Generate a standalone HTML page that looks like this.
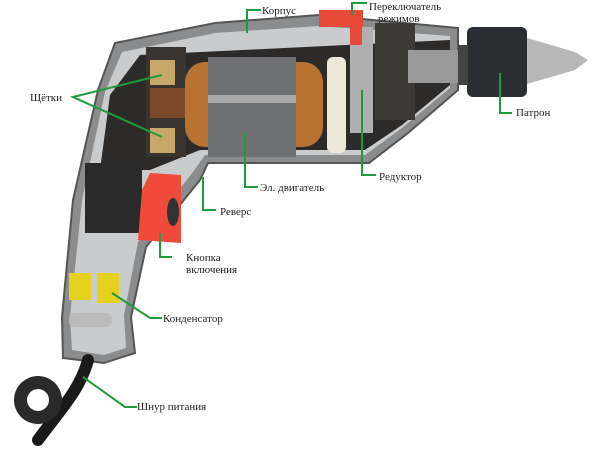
<!DOCTYPE html>
<html><head><meta charset="utf-8"><style>
html,body{margin:0;padding:0;background:#fff;width:600px;height:462px;overflow:hidden}
svg{display:block}
text{font-family:"Liberation Serif",serif;font-size:11px;fill:#222}
</style></head><body>
<svg width="600" height="462" viewBox="0 0 600 462">
<!-- body shell -->
<path d="M115,43 L215,23 L319,15 L458,28 L458,90 L408,133 L369,163 L208,163 L200,180 L146,247 L131,317 L135,353 L104,363 L63,358 L62,317 L73,200 L98,90 Z" fill="#8a8c8e" stroke="#555" stroke-width="2"/>
<path d="M122,52 L215,33 L319,26 L450,36 L450,88 L402,128 L365,155 L205,155 L193,172 L138,242 L124,315 L126,348 L104,355 L72,350 L70,317 L82,200 L105,92 Z" fill="#c9cbcc"/>
<path d="M140,55 L450,40 L450,85 L402,125 L365,150 L200,150 L150,170 L100,170 L110,95 Z" fill="#2c2b2a"/>
<!-- brushes -->
<rect x="146" y="47" width="40" height="110" fill="#3a3430"/>
<rect x="150" y="60" width="25" height="25" fill="#c8a86a"/>
<rect x="150" y="128" width="25" height="25" fill="#c8a86a"/>
<rect x="150" y="88" width="40" height="30" fill="#7a4a2a"/>
<!-- coils -->
<rect x="185" y="62" width="138" height="85" rx="20" fill="#b87333"/>
<rect x="208" y="57" width="88" height="100" fill="#6e7073"/>
<rect x="208" y="95" width="88" height="8" fill="#aaa"/>
<!-- fan -->
<rect x="327" y="57" width="19" height="96" rx="6" fill="#ece9d8"/>
<!-- gear column -->
<rect x="350" y="27" width="23" height="106" fill="#b0b0b0"/>
<rect x="375" y="23" width="40" height="97" fill="#3b3a35"/>
<rect x="408" y="50" width="50" height="33" fill="#999"/>
<!-- chuck -->
<rect x="467" y="27" width="60" height="70" rx="6" fill="#2a2d33"/>
<path d="M527,38 L575,52 L588,60 L575,70 L527,84 Z" fill="#b8b8b8"/>
<rect x="458" y="45" width="10" height="40" fill="#444"/>
<!-- red switch -->
<rect x="319" y="10" width="44" height="17" fill="#e84a3a"/>
<rect x="350" y="15" width="12" height="30" fill="#e84a3a"/>
<!-- switch box & trigger -->
<rect x="85" y="163" width="57" height="70" fill="#2a2a2a"/>
<path d="M150,173 L181,175 L181,243 L138,240 L142,190 Z" fill="#ef4a3a"/>
<ellipse cx="173" cy="212" rx="6" ry="14" fill="#333"/>
<!-- capacitor -->
<rect x="69" y="273" width="22" height="27" fill="#e6d21e"/>
<rect x="97" y="273" width="22" height="30" fill="#e6d21e"/>
<rect x="69" y="313" width="43" height="14" rx="5" fill="#bbb"/>
<!-- cord -->
<path d="M88,360 C80,390 60,410 38,440" stroke="#1a1a1a" stroke-width="12" fill="none" stroke-linecap="round"/>
<circle cx="38" cy="400" r="24" fill="#2a2a2a"/>
<circle cx="38" cy="400" r="11" fill="#fff"/>
<!-- leaders -->
<g stroke="#1f9a3c" stroke-width="2" fill="none">
<polyline points="247,33 247,10 261,10"/>
<polyline points="352,15 352,3 367,3"/>
<polyline points="162,75 73,97 162,137"/>
<polyline points="500,73 500,113 512,113"/>
<polyline points="362,90 362,175 376,175"/>
<polyline points="245,133 245,187 258,187"/>
<polyline points="203,177 203,210 216,210"/>
<polyline points="160,233 160,257 172,257"/>
<polyline points="112,293 150,318 162,318"/>
<polyline points="83,377 125,407 137,407"/>
</g>
<text x="262" y="14">Корпус</text>
<text x="369" y="10">Переключатель</text>
<text x="378" y="22">режимов</text>
<text x="30" y="101">Щётки</text>
<text x="516" y="116">Патрон</text>
<text x="379" y="180">Редуктор</text>
<text x="260" y="191">Эл. двигатель</text>
<text x="220" y="215">Реверс</text>
<text x="186" y="261">Кнопка</text>
<text x="186" y="273">включения</text>
<text x="163" y="322">Конденсатор</text>
<text x="137" y="410">Шнур питания</text>
</svg>
</body></html>
